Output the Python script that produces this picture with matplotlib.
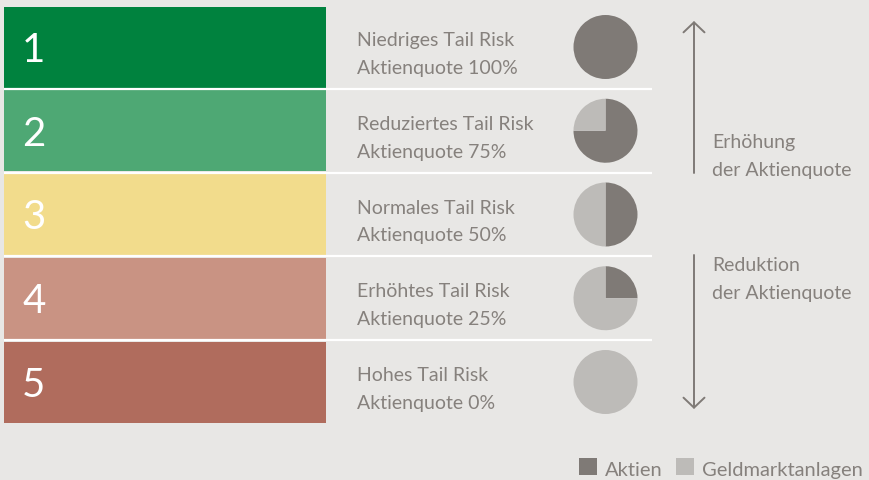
import matplotlib
matplotlib.use("Agg")
import matplotlib.pyplot as plt

# data
levels = ["1", "2", "3", "4", "5"]
risk_labels = ["Niedriges Tail Risk", "Reduziertes Tail Risk", "Normales Tail Risk",
               "Erhöhtes Tail Risk", "Hohes Tail Risk"]
equity_share = [100, 75, 50, 25, 0]  # Aktienquote in %
row_colors = ["#00823e", "#4ea874", "#f2dc8c", "#c99383", "#b06c5d"]
legend_labels = ["Aktien", "Geldmarktanlagen"]

BG = "#e8e7e5"
DARK = "#7f7a76"
LIGHT = "#bdbbb8"
TXT = "#86817d"
W, H = 870, 481

plt.rcParams["font.family"] = ["Lato", "DejaVu Sans"]

fig = plt.figure(figsize=(W / 100, H / 100), dpi=100, facecolor=BG)
ax = fig.add_axes([0, 0, 1, 1])
ax.set_facecolor(BG)

# row layout in pixels (y counted from top, converted to data below)
top_center = 48
pitch = 83.75
bar_h = 81

def ypx(y):
    return H - y

centers = [ypx(top_center + i * pitch) for i in range(len(levels))]

ax.barh(centers, [322] * len(levels), height=bar_h, left=4, color=row_colors)

# white separator lines
for i in range(len(levels) - 1):
    y = ypx(top_center + i * pitch + pitch / 2)
    ax.plot([4, 652], [y, y], color="white", lw=1.6, solid_capstyle="butt")

for i, (lvl, lab, eq) in enumerate(zip(levels, risk_labels, equity_share)):
    yc = centers[i]
    ax.text(22, yc - 14, lvl, color="white", fontsize=29, fontweight="normal",
            va="baseline", ha="left")
    ax.text(357, yc + 2, lab, color=TXT, fontsize=14, va="baseline", ha="left")
    ax.text(357, yc - 26, "Aktienquote %d%%" % eq, color=TXT, fontsize=14,
            va="baseline", ha="left")
    vals = [eq, 100 - eq]
    if eq == 0:
        vals = [1e-9, 100]
    ax.pie(vals, colors=[DARK, LIGHT], startangle=90, counterclock=False,
           center=(605.5, yc), radius=32, frame=True,
           wedgeprops=dict(linewidth=0))

# arrows
ax.annotate("", xy=(694, ypx(22)), xytext=(694, ypx(174)),
            arrowprops=dict(arrowstyle="->,head_length=0.4,head_width=0.42",
                            color=DARK, lw=1.4, shrinkA=0, shrinkB=0,
                            mutation_scale=18))
ax.annotate("", xy=(694, ypx(410)), xytext=(694, ypx(256)),
            arrowprops=dict(arrowstyle="->,head_length=0.4,head_width=0.42",
                            color=DARK, lw=1.4, shrinkA=0, shrinkB=0,
                            mutation_scale=18))
ax.text(712, ypx(148), "Erhöhung", color=TXT, fontsize=14, va="baseline")
ax.text(712, ypx(176), "der Aktienquote", color=TXT, fontsize=14, va="baseline")
ax.text(712, ypx(271), "Reduktion", color=TXT, fontsize=14, va="baseline")
ax.text(712, ypx(299), "der Aktienquote", color=TXT, fontsize=14, va="baseline")

# legend
ax.bar([588, 685], [17, 17], width=18, bottom=ypx(476), color=[DARK, LIGHT])
ax.text(605, ypx(476), legend_labels[0], color=TXT, fontsize=14.5, va="baseline")
ax.text(702, ypx(476), legend_labels[1], color=TXT, fontsize=14.5, va="baseline")

ax.set_xlim(0, W)
ax.set_ylim(0, H)
ax.set_aspect("auto")
ax.axis("off")

plt.savefig("out.png", dpi=100, facecolor=BG)
